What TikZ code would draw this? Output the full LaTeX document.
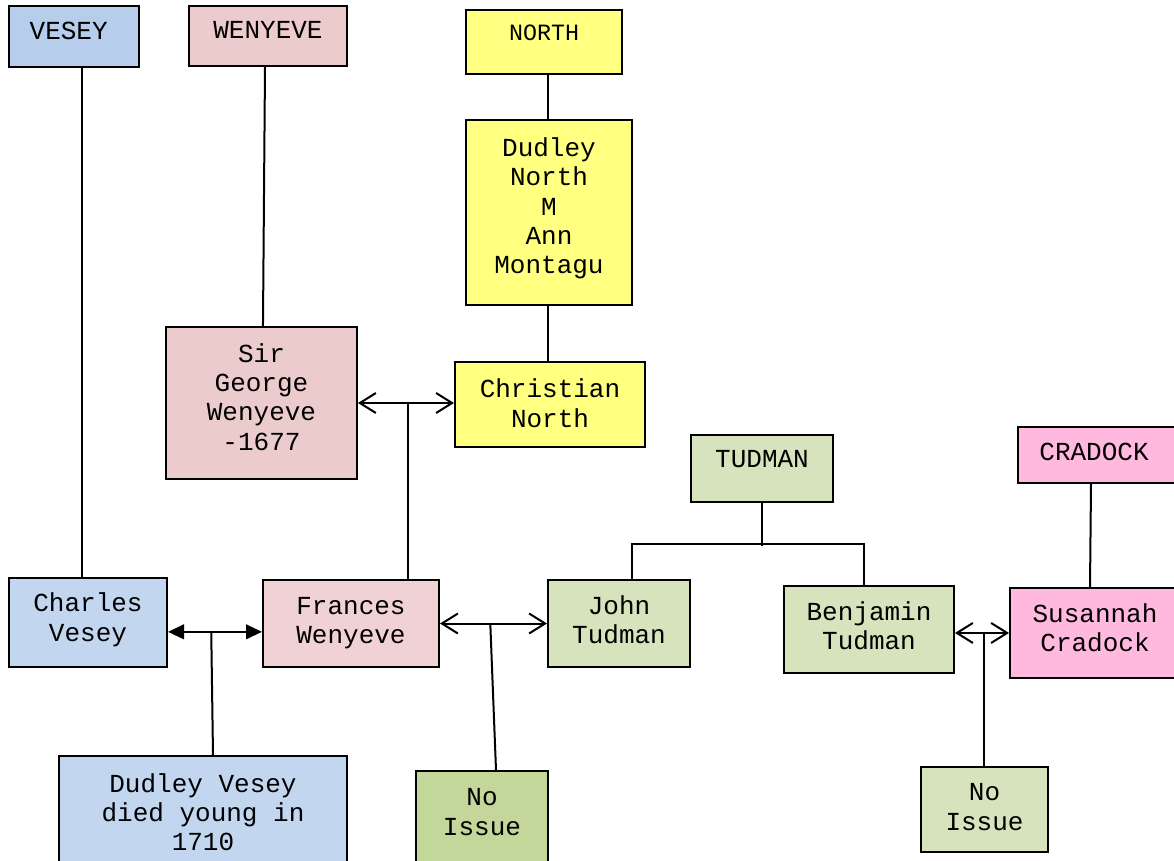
\documentclass[tikz,border=0pt]{standalone}
\usepackage{fontspec}
\setmainfont{Liberation Mono}
\usetikzlibrary{arrows.meta}
\newcommand\bt[2]{\raisebox{#1}[\height][\depth]{\begin{tabular}{@{}c@{}}#2\end{tabular}}}
\definecolor{veseyA}{HTML}{B6CDEB}
\definecolor{veseyB}{HTML}{C2D6EF}
\definecolor{wenA}{HTML}{EBCBCB}
\definecolor{wenB}{HTML}{F0D2D4}
\definecolor{northC}{HTML}{FFFF80}
\definecolor{tudA}{HTML}{D6E3BC}
\definecolor{tudB}{HTML}{C4D79B}
\definecolor{cradC}{HTML}{FFB9DE}
\begin{document}
\begin{tikzpicture}[x=0.75pt,y=-0.75pt,
  box/.style={draw=black, line width=1.5pt, inner sep=0pt, font=\fontsize{19.5}{22}\selectfont},
  smalltext/.style={font=\fontsize{17.5}{20}\selectfont},
  link/.style={line width=1.5pt},
  marr/.style={line width=1.5pt, {Straight Barb[length=12pt,width=15pt]}-{Straight Barb[length=12pt,width=15pt]}},
  farr/.style={line width=1.5pt, {Triangle[length=12pt,width=11pt]}-{Triangle[length=12pt,width=11pt]}},
  sz/.style 2 args={minimum width=#1*0.75pt, minimum height=#2*0.75pt}
]
\clip (0,0) rectangle (1174,860);
\fill[white] (0,0) rectangle (1174,860);

% top family boxes
\node[box, fill=veseyA, sz={130}{61}] (vesey) at (74,36.5) {\bt{2.5pt}{VESEY}\rule{8pt}{0pt}};
\node[box, fill=wenA, sz={158}{60}] (wenyeve) at (268,36) {\bt{2.5pt}{WENYEVE}};
\node[box, fill=northC, sz={156}{64}, smalltext] (north) at (544,42) {\bt{5.5pt}{NORTH}};
\node[box, fill=northC, sz={166}{185}] (dnorth) at (549,212.5) {\bt{2.5pt}{Dudley\\North\\M\\Ann\\Montagu}};
\node[box, fill=northC, sz={190}{85}] (cnorth) at (550,404.5) {\bt{-1.5pt}{Christian\\North}};
\node[box, fill=wenA, sz={191}{152}] (george) at (261.5,403) {\bt{2pt}{Sir\\George\\Wenyeve\\-1677}};
\node[box, fill=tudA, sz={142}{67}] (tudman) at (762,468.5) {\bt{5.5pt}{TUDMAN}};
\node[box, fill=cradC, sz={160}{56}] (cradock) at (1098,455) {\bt{0.5pt}{CRADOCK}\rule{6pt}{0pt}};

% middle row
\node[box, fill=veseyB, sz={158}{89}] (charles) at (88,622.5) {\bt{1.5pt}{Charles\\Vesey}};
\node[box, fill=wenB, sz={176}{87}] (frances) at (351,623.5) {\bt{0.5pt}{Frances\\Wenyeve}};
\node[box, fill=tudA, sz={142}{87}] (john) at (619,623.5) {\bt{0.5pt}{John\\Tudman}};
\node[box, fill=tudA, sz={170}{87}] (benjamin) at (869,629.5) {\bt{0.5pt}{Benjamin\\Tudman}};
\node[box, fill=cradC, sz={170}{90}] (susannah) at (1095,633) {\bt{1.5pt}{Susannah\\Cradock}};

% bottom row
\node[box, fill=veseyB, sz={288}{114}] (dvesey) at (203,813) {\bt{-2pt}{Dudley Vesey\\died young in\\1710}};
\node[box, fill=tudB, sz={132}{110}] (noissueA) at (482,826) {\bt{8.5pt}{No\\Issue}};
\node[box, fill=tudA, sz={127}{85}] (noissueB) at (984.5,809.5) {\bt{0pt}{No\\Issue}};

% descent lines
\draw[link] ([xshift=6pt]vesey.south) -- ([xshift=-4.5pt]charles.north);
\draw[link] ([xshift=-2.25pt]wenyeve.south) -- ([xshift=1.1pt]george.north);
\draw[link] ([xshift=3pt]north.south) -- ([xshift=-0.75pt]dnorth.north);
\draw[link] ([xshift=-0.75pt]dnorth.south) -- ([xshift=-1.5pt]cnorth.north);
\draw[link] ([xshift=-5.25pt]cradock.south) -- ([xshift=-3.75pt]susannah.north);
\draw[link] (tudman.south) -- ++(0,43);
\draw[link] ([xshift=9.75pt]john.north) -- ++(0,-35) -| ([xshift=-3.75pt]benjamin.north);

% marriages
\draw[marr] (george.east) -- (george.east -| cnorth.west) coordinate[pos=0.52] (m1);
\draw[link] (m1) -- (m1 |- frances.north);

\draw[farr] ([yshift=-7pt]charles.east) -- ([yshift=-7pt]charles.east -| frances.west) coordinate[pos=0.46] (m2);
\draw[link] (m2) -- ([xshift=7.5pt]dvesey.north);

\draw[marr] (frances.east) -- (frances.east -| john.west) coordinate[pos=0.47] (m3);
\draw[link] (m3) -- ([xshift=10.5pt]noissueA.north);

\draw[marr] ([yshift=-2.6pt]benjamin.east) -- ([yshift=-2.6pt]benjamin.east -| susannah.west) coordinate[pos=0.54] (m4);
\draw[link] (m4) -- (m4 |- noissueB.north);
\end{tikzpicture}
\end{document}
